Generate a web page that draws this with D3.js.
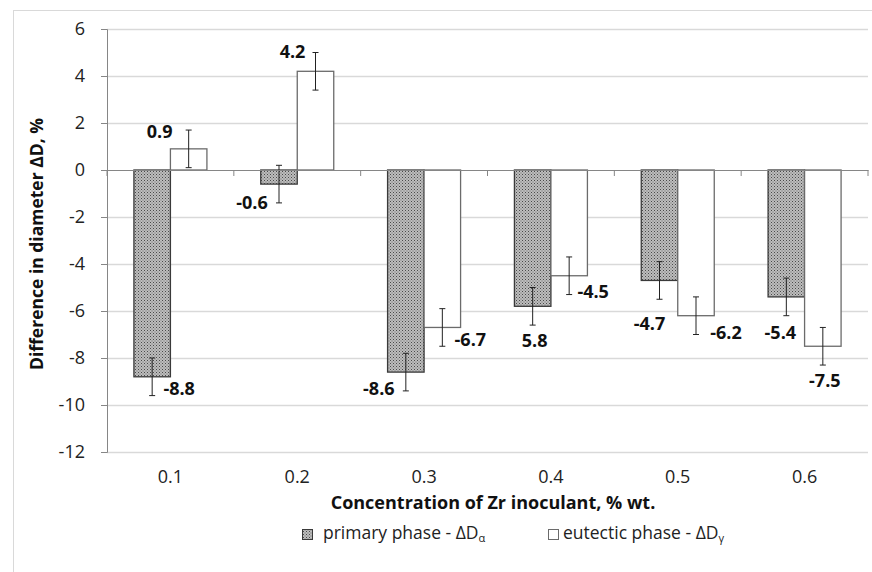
<!DOCTYPE html>
<html>
<head>
<meta charset="utf-8">
<script src="https://cdn.jsdelivr.net/npm/d3@7"></script>
<style>
  body { margin: 0; background: #fff; }
  svg { font-family: "Open Sans", "Liberation Sans", sans-serif; }
</style>
</head>
<body>
<div id="container"></div>
<script>
/* DATA */
const categories = ["0.1", "0.2", "0.3", "0.4", "0.5", "0.6"];
const primary = [-8.8, -0.6, -8.6, -5.8, -4.7, -5.4];
const eutectic = [0.9, 4.2, -6.7, -4.5, -6.2, -7.5];
const primaryErr = [0.8, 0.8, 0.8, 0.8, 0.8, 0.8];
const eutecticErr = [0.8, 0.8, 0.8, 0.8, 0.8, 0.8];
const primaryLabels = ["-8.8", "-0.6", "-8.6", "5.8", "-4.7", "-5.4"];
const eutecticLabels = ["0.9", "4.2", "-6.7", "-4.5", "-6.2", "-7.5"];
const yTicks = [6, 4, 2, 0, -2, -4, -6, -8, -10, -12];

// label placement relative to bar centre / bar end (layout only)
const primaryLabelPos = [[27, 13], [-27, 20], [-27, 18], [2, 36], [-10, 45], [-6, 37]];
const eutecticLabelPos = [[-29, -16], [-23, -18], [28, 14], [24, 17], [30, 18], [2, 36]];

/* CONSTANTS */
const width = 872, height = 572,
  margin = { top: 29, bottom: 120, left: 107, right: 4 };
const fs = 18;

const svg = d3.select("#container")
  .append("svg")
  .attr("width", width)
  .attr("height", height);

// dotted fill for primary phase
const defs = svg.append("defs");
const pat = defs.append("pattern")
  .attr("id", "dots")
  .attr("width", 3).attr("height", 3)
  .attr("patternUnits", "userSpaceOnUse");
pat.append("rect").attr("width", 3).attr("height", 3).attr("fill", "#bdbdbd");
pat.append("rect").attr("width", 1).attr("height", 1).attr("fill", "#4a4a4a");
pat.append("rect").attr("x", 1.5).attr("y", 1.5).attr("width", 1).attr("height", 1).attr("fill", "#6a6a6a");

// outer frame (cut off at right and bottom)
svg.append("rect")
  .attr("x", 13.5).attr("y", 10.5)
  .attr("width", 900).attr("height", 600)
  .attr("fill", "none")
  .attr("stroke", "#d9d9d9");

/* SCALES */
const xScale = d3.scaleBand()
  .domain(categories)
  .range([margin.left, width - margin.right]);

const yScale = d3.scaleLinear()
  .domain([-12, 6])
  .range([452, margin.top]);

const barW = 36.5;

// gridlines
svg.append("g")
  .selectAll("line")
  .data(yTicks.filter(d => d !== 0))
  .join("line")
  .attr("x1", margin.left)
  .attr("x2", width - margin.right)
  .attr("y1", d => Math.round(yScale(d)) + 0.5)
  .attr("y2", d => Math.round(yScale(d)) + 0.5)
  .attr("stroke", "#d9d9d9")
  .attr("stroke-width", 1.5);

// y axis
const yAxis = d3.axisLeft(yScale)
  .tickValues(yTicks)
  .tickFormat(d => String(d))
  .tickSize(6)
  .tickPadding(16);
const gy = svg.append("g")
  .attr("transform", `translate(${margin.left},0)`)
  .call(yAxis);
gy.select(".domain").attr("stroke", "#868686");
gy.selectAll(".tick line").attr("stroke", "#868686");
gy.selectAll(".tick text")
  .attr("font-size", fs)
  .attr("fill", "#222")
  .attr("font-family", "Open Sans, sans-serif");

// bars
const groups = svg.append("g")
  .selectAll("g")
  .data(categories)
  .join("g");

groups.append("rect")
  .attr("x", d => xScale(d) + xScale.bandwidth() / 2 - barW)
  .attr("y", (d, i) => yScale(Math.max(0, primary[i])))
  .attr("width", barW)
  .attr("height", (d, i) => Math.abs(yScale(primary[i]) - yScale(0)))
  .attr("fill", "url(#dots)")
  .attr("stroke", "#3a3a3a")
  .attr("stroke-width", 1.3);

groups.append("rect")
  .attr("x", d => xScale(d) + xScale.bandwidth() / 2)
  .attr("y", (d, i) => yScale(Math.max(0, eutectic[i])))
  .attr("width", barW)
  .attr("height", (d, i) => Math.abs(yScale(eutectic[i]) - yScale(0)))
  .attr("fill", "#fff")
  .attr("stroke", "#6b6b6b")
  .attr("stroke-width", 1.3);

// category axis at zero
const xAxis = d3.axisBottom(xScale).tickSize(0).tickFormat("");
const gx = svg.append("g")
  .attr("transform", `translate(0,${yScale(0)})`)
  .call(xAxis);
gx.select(".domain").attr("stroke", "#868686");
svg.append("g")
  .selectAll("line")
  .data(d3.range(categories.length + 1))
  .join("line")
  .attr("x1", i => margin.left + i * xScale.step())
  .attr("x2", i => margin.left + i * xScale.step())
  .attr("y1", yScale(0))
  .attr("y2", yScale(0) + 6)
  .attr("stroke", "#868686");

// error bars
function errorBar(sel, cx, v, e) {
  const g = sel.append("g").attr("stroke", "#222").attr("stroke-width", 1);
  g.append("line").attr("x1", cx).attr("x2", cx).attr("y1", yScale(v - e)).attr("y2", yScale(v + e));
  g.append("line").attr("x1", cx - 3).attr("x2", cx + 3).attr("y1", yScale(v - e)).attr("y2", yScale(v - e));
  g.append("line").attr("x1", cx - 3).attr("x2", cx + 3).attr("y1", yScale(v + e)).attr("y2", yScale(v + e));
}
groups.each(function (d, i) {
  const c = xScale(d) + xScale.bandwidth() / 2;
  errorBar(d3.select(this), c - barW / 2, primary[i], primaryErr[i]);
  errorBar(d3.select(this), c + barW / 2, eutectic[i], eutecticErr[i]);
});

// value labels
groups.append("text")
  .attr("x", (d, i) => xScale(d) + xScale.bandwidth() / 2 - barW / 2 + primaryLabelPos[i][0])
  .attr("y", (d, i) => yScale(primary[i]) + primaryLabelPos[i][1])
  .attr("text-anchor", "middle")
  .attr("dominant-baseline", "middle")
  .attr("font-size", fs).attr("font-weight", "bold").attr("fill", "#111")
  .text((d, i) => primaryLabels[i]);

groups.append("text")
  .attr("x", (d, i) => xScale(d) + xScale.bandwidth() / 2 + barW / 2 + eutecticLabelPos[i][0])
  .attr("y", (d, i) => yScale(eutectic[i]) + eutecticLabelPos[i][1])
  .attr("text-anchor", "middle")
  .attr("dominant-baseline", "middle")
  .attr("font-size", fs).attr("font-weight", "bold").attr("fill", "#111")
  .text((d, i) => eutecticLabels[i]);

// category tick labels
svg.append("g")
  .selectAll("text")
  .data(categories)
  .join("text")
  .attr("x", d => xScale(d) + xScale.bandwidth() / 2)
  .attr("y", 478)
  .attr("text-anchor", "middle")
  .attr("dominant-baseline", "middle")
  .attr("font-size", fs).attr("fill", "#222")
  .text(d => d);

// axis titles
svg.append("text")
  .attr("x", 493)
  .attr("y", 504)
  .attr("text-anchor", "middle")
  .attr("dominant-baseline", "middle")
  .attr("font-size", 18).attr("font-weight", "bold").attr("fill", "#111")
  .text("Concentration of Zr inoculant, % wt.");

svg.append("text")
  .attr("transform", "translate(38,244) rotate(-90)")
  .attr("text-anchor", "middle")
  .attr("dominant-baseline", "middle")
  .attr("font-size", 17.5).attr("font-weight", "bold").attr("fill", "#111")
  .text("Difference in diameter ΔD, %");

/* LEGEND */
const legend = svg.append("g").attr("font-size", 17.5).attr("fill", "#222");
legend.append("rect")
  .attr("x", 302.5).attr("y", 529.5).attr("width", 10).attr("height", 10)
  .attr("fill", "url(#dots)").attr("stroke", "#3a3a3a");
const t1 = legend.append("text").attr("x", 323).attr("y", 534).attr("dominant-baseline", "middle");
t1.append("tspan").text("primary phase - ΔD");
t1.append("tspan").attr("font-size", 11).attr("dy", 5).text("α");

legend.append("rect")
  .attr("x", 548.5).attr("y", 529.5).attr("width", 10).attr("height", 10)
  .attr("fill", "#fff").attr("stroke", "#6b6b6b");
const t2 = legend.append("text").attr("x", 563).attr("y", 534).attr("dominant-baseline", "middle");
t2.append("tspan").text("eutectic phase - ΔD");
t2.append("tspan").attr("font-size", 11).attr("dy", 5).text("γ");
</script>
</body>
</html>
